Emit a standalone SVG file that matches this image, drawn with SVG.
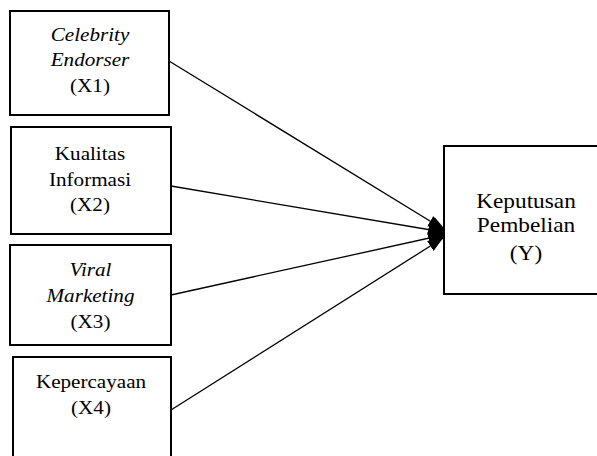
<svg xmlns="http://www.w3.org/2000/svg" width="597" height="456" viewBox="0 0 597 456">
<style>
.box{fill:#fff;stroke:#000;stroke-width:2}
.t{font-family:'Liberation Serif','Times New Roman',serif;font-size:18.7px;fill:#000;text-anchor:middle}
.ty{font-family:'Liberation Serif','Times New Roman',serif;font-size:21px;fill:#000;text-anchor:middle}
.i{font-style:italic}
.c{stroke:#000;stroke-width:1.3;fill:none;marker-end:url(#ah)}
</style>
<defs>
<marker id="ah" markerUnits="userSpaceOnUse" markerWidth="15" markerHeight="12" refX="15" refY="6" orient="auto" viewBox="0 0 15 12">
<path d="M0,0 L15,6 L0,12 z" fill="#000"/>
</marker>
</defs>
<rect width="597" height="456" fill="#fff"/>
<g id="connectors">
<line class="c" x1="169" y1="61" x2="443" y2="229"/>
<line class="c" x1="171" y1="186" x2="443" y2="232"/>
<line class="c" x1="171" y1="295" x2="443" y2="235"/>
<line class="c" x1="171" y1="410" x2="443" y2="238"/>
<polygon points="435,217.5 443,227 443,238.5 435,247.5 429,233" fill="#000"/>
</g>
<g id="x1">
<rect class="box" x="10" y="11" width="159" height="104"/>
<text class="t i" transform="translate(90 40.5) scale(1.13 1)">Celebrity</text>
<text class="t i" transform="translate(90 66) scale(1.13 1)">Endorser</text>
<text class="t" transform="translate(90 92) scale(1.13 1)">(X1)</text>
</g>
<g id="x2">
<rect class="box" x="11" y="127" width="160" height="107"/>
<text class="t" transform="translate(90 159.5) scale(1.13 1)">Kualitas</text>
<text class="t" transform="translate(90 185.5) scale(1.13 1)">Informasi</text>
<text class="t" transform="translate(90 211) scale(1.13 1)">(X2)</text>
</g>
<g id="x3">
<rect class="box" x="10" y="245" width="161" height="100"/>
<text class="t i" transform="translate(90.5 275.5) scale(1.13 1)">Viral</text>
<text class="t i" transform="translate(90.5 301.5) scale(1.13 1)">Marketing</text>
<text class="t" transform="translate(90.5 327.5) scale(1.13 1)">(X3)</text>
</g>
<g id="x4">
<rect class="box" x="13" y="357" width="158" height="110"/>
<text class="t" transform="translate(91 388) scale(1.13 1)">Kepercayaan</text>
<text class="t" transform="translate(91 413.5) scale(1.13 1)">(X4)</text>
</g>
<g id="y">
<rect class="box" x="444" y="146" width="160" height="148"/>
<text class="ty" transform="translate(526 207.5) scale(1.11 1)">Keputusan</text>
<text class="ty" transform="translate(526 232) scale(1.11 1)">Pembelian</text>
<text class="ty" transform="translate(526 260) scale(1.11 1)">(Y)</text>
</g>
</svg>
